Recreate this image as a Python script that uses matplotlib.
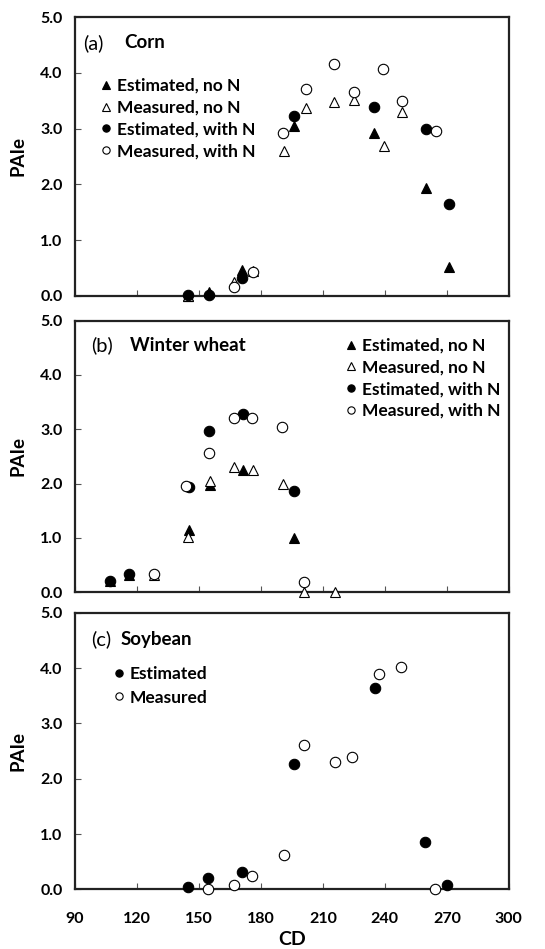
import matplotlib
matplotlib.use('Agg')
import matplotlib.pyplot as plt

plt.rcParams['font.family'] = ['Lato', 'DejaVu Sans']
plt.rcParams['font.weight'] = 'bold'
plt.rcParams['axes.labelweight'] = 'bold'

# (a) Corn
corn_est_noN_x = [144.7, 155.1, 170.7, 196.0, 234.9, 260.0, 271.0]
corn_est_noN_y = [0.00, 0.07, 0.47, 3.04, 2.92, 1.93, 0.52]
corn_meas_noN_x = [144.7, 167.0, 176.3, 191.1, 202.0, 215.3, 225.0, 239.4, 248.3]
corn_meas_noN_y = [0.00, 0.25, 0.45, 2.59, 3.37, 3.47, 3.51, 2.69, 3.29]
corn_est_N_x = [144.9, 155.0, 170.8, 196.0, 234.9, 260.0, 271.0]
corn_est_N_y = [0.01, 0.01, 0.31, 3.23, 3.38, 3.00, 1.65]
corn_meas_N_x = [167.0, 176.3, 190.8, 202.0, 215.3, 225.0, 239.1, 248.3, 264.7]
corn_meas_N_y = [0.15, 0.43, 2.93, 3.71, 4.16, 3.65, 4.07, 3.49, 2.96]

# (b) Winter wheat
wheat_est_noN_x = [107.1, 116.3, 145.0, 155.2, 171.5, 196.1]
wheat_est_noN_y = [0.20, 0.31, 1.15, 1.98, 2.25, 0.99]
wheat_meas_noN_x = [128.2, 144.5, 155.2, 166.8, 176.1, 190.9, 201.0, 216.0]
wheat_meas_noN_y = [0.32, 1.02, 2.05, 2.31, 2.25, 1.99, 0.00, 0.00]
wheat_est_N_x = [107.1, 116.3, 145.0, 154.7, 171.1, 195.8]
wheat_est_N_y = [0.20, 0.33, 1.94, 2.96, 3.29, 1.87]
wheat_meas_N_x = [128.2, 143.9, 154.7, 166.8, 175.8, 190.4, 201.0]
wheat_meas_N_y = [0.33, 1.96, 2.56, 3.20, 3.20, 3.05, 0.18]

# (c) Soybean
soy_est_x = [144.5, 154.5, 170.9, 196.0, 235.2, 259.5, 270.0]
soy_est_y = [0.05, 0.20, 0.31, 2.26, 3.65, 0.85, 0.07]
soy_meas_x = [154.4, 167.2, 175.9, 191.0, 200.8, 216.0, 224.0, 237.4, 247.7, 264.2]
soy_meas_y = [0.00, 0.07, 0.24, 0.62, 2.61, 2.31, 2.39, 3.89, 4.02, 0.00]

x_ticks = [90, 120, 150, 180, 210, 240, 270, 300]
y_ticks = [0.0, 1.0, 2.0, 3.0, 4.0, 5.0]

FS = 11.5   # tick labels
LFS = 12.5  # legend text
MS = 7.5


def style_axes(ax, show_xlabels):
    ax.set_xlim(90, 300)
    ax.set_ylim(0, 5)
    xlabels = [str(v) for v in x_ticks] if show_xlabels else []
    ax.set_xticks(x_ticks, labels=xlabels if show_xlabels else [''] * len(x_ticks),
                  fontweight='bold', fontsize=FS)
    ax.set_yticks(y_ticks, labels=[f'{v:.1f}' for v in y_ticks],
                  fontweight='bold', fontsize=FS)
    ax.tick_params(direction='in', length=4, width=0.8, color='#555555',
                   top=False, right=False)
    ax.tick_params(axis='y', pad=9)
    ax.tick_params(axis='x', pad=16)
    for sp in ax.spines.values():
        sp.set_linewidth(1.6)
        sp.set_color('#222222')
    ax.set_ylabel('PAIe', fontsize=13.5, fontweight='bold', labelpad=10)


def pts(ax, x, y, marker, filled, label):
    face = 'black' if filled else 'white'
    ax.plot(x, y, linestyle='none', marker=marker, markersize=MS,
            markerfacecolor=face, markeredgecolor='black',
            markeredgewidth=0.8, label=label, clip_on=False, zorder=3)


def add_legend(ax, anchor, spacing=0.33):
    ax.legend(loc='upper left', bbox_to_anchor=anchor, frameon=False,
              prop={'size': LFS, 'weight': 'bold'}, markerscale=0.7,
              handlelength=0.6, handletextpad=0.3, labelspacing=spacing,
              borderaxespad=0, borderpad=0)


def panel_title(ax, x_tag, x_name, y, tag, name):
    ax.text(x_tag, y, tag, transform=ax.transAxes, fontsize=14.5,
            fontweight='normal', va='center', ha='left')
    ax.text(x_name, y, name, transform=ax.transAxes, fontsize=13.5,
            fontweight='bold', va='center', ha='left')


fig = plt.figure(figsize=(5.45, 9.49), dpi=100)
ax_a = fig.add_axes([0.1376, 0.6884, 0.796, 0.2934])
ax_b = fig.add_axes([0.1376, 0.3759, 0.796, 0.2862])
ax_c = fig.add_axes([0.1376, 0.0629, 0.796, 0.2912])

# corn
pts(ax_a, corn_est_noN_x, corn_est_noN_y, '^', True, 'Estimated, no N')
pts(ax_a, corn_meas_noN_x, corn_meas_noN_y, '^', False, 'Measured, no N')
pts(ax_a, corn_est_N_x, corn_est_N_y, 'o', True, 'Estimated, with N')
pts(ax_a, corn_meas_N_x, corn_meas_N_y, 'o', False, 'Measured, with N')
style_axes(ax_a, False)
add_legend(ax_a, (0.06, 0.782))
panel_title(ax_a, 0.018, 0.113, 0.908, '(a)', 'Corn')

# winter wheat
pts(ax_b, wheat_est_noN_x, wheat_est_noN_y, '^', True, 'Estimated, no N')
pts(ax_b, wheat_meas_noN_x, wheat_meas_noN_y, '^', False, 'Measured, no N')
pts(ax_b, wheat_est_N_x, wheat_est_N_y, 'o', True, 'Estimated, with N')
pts(ax_b, wheat_meas_N_x, wheat_meas_N_y, 'o', False, 'Measured, with N')
style_axes(ax_b, False)
add_legend(ax_b, (0.625, 0.937))
panel_title(ax_b, 0.037, 0.127, 0.91, '(b)', 'Winter wheat')

# soybean
pts(ax_c, soy_est_x, soy_est_y, 'o', True, 'Estimated')
pts(ax_c, soy_meas_x, soy_meas_y, 'o', False, 'Measured')
style_axes(ax_c, True)
add_legend(ax_c, (0.09, 0.809), spacing=0.45)
panel_title(ax_c, 0.037, 0.106, 0.905, '(c)', 'Soybean')
ax_c.set_xlabel('CD', fontsize=14, fontweight='bold', labelpad=4)

fig.savefig('out.png', dpi=100)
